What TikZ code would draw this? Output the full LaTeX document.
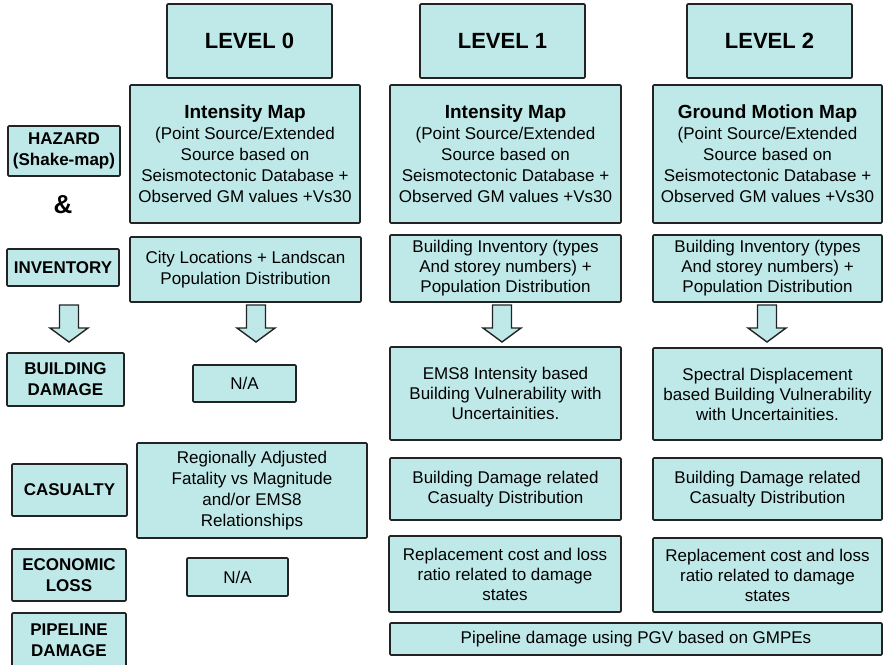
\documentclass[tikz,border=0pt]{standalone}
\usepackage{fontspec}
\setmainfont{Liberation Sans}
\usepackage{tikz}
\definecolor{boxcyan}{RGB}{190,233,232}
\definecolor{boxline}{RGB}{35,35,35}

\begin{document}
\begin{tikzpicture}
        [
          x=1pt, y=-1pt,
          box/.style={draw=boxline, line width=1.6pt, fill=boxcyan, rounded corners=1pt,
            inner sep=0pt, align=center, font=\fontsize{17}{21}\selectfont},
          levelbox/.style={box, minimum width=165pt, minimum height=74pt,
            font=\fontsize{22}{26}\selectfont\bfseries},
          sidebox/.style={box, font=\fontsize{17}{21}\selectfont\bfseries},
          tight/.style={font=\fontsize{17}{20}\selectfont},
          hollow/.style={draw=boxline, line width=1.4pt, fill=boxcyan, line join=miter}
        ]
        \useasboundingbox (0,0) rectangle (883,664);
        % levels
        \node [levelbox] (lvl0) at (249.5,41) {LEVEL 0};
        \node [levelbox] (lvl1) at (502.5,41) {LEVEL 1};
        \node [levelbox] (lvl2) at (769.5,41) {LEVEL 2};
        % hazard maps
        \node [box, minimum width=230pt, minimum height=138pt] (map0) at (245,154)
        {{\bfseries\fontsize{19}{21}\selectfont Intensity Map}\\(Point Source/Extended\\Source based on\\Seismotectonic Database +\\Observed GM values +Vs30};
        \node [box, minimum width=231pt, minimum height=138pt] (map1) at (505.5,154)
        {{\bfseries\fontsize{19}{21}\selectfont Intensity Map}\\(Point Source/Extended\\Source based on\\Seismotectonic Database +\\Observed GM values +Vs30};
        \node [box, minimum width=229pt, minimum height=138pt] (map2) at (767.5,154)
        {{\bfseries\fontsize{19}{21}\selectfont Ground Motion Map}\\(Point Source/Extended\\Source based on\\Seismotectonic Database +\\Observed GM values +Vs30};
        % left column
        \node [sidebox, minimum width=112pt, minimum height=50pt] (haz) at (64,151) {HAZARD\\(Shake-map)};
        \node [font=\fontsize{26}{26}\selectfont\bfseries] (amp) at (63,205) {\&};
        \node [sidebox, minimum width=112pt, minimum height=37pt] (inv) at (63,267.5) {INVENTORY};
        \node [sidebox, minimum width=117pt, minimum height=53pt] (bdam) at (65.5,379.5) {BUILDING\\DAMAGE};
        \node [sidebox, minimum width=115pt, minimum height=52pt] (cas) at (69.5,490) {CASUALTY};
        \node [sidebox, minimum width=114pt, minimum height=52pt] (eco) at (69,575) {ECONOMIC\\LOSS};
        \node [sidebox, minimum width=114pt, minimum height=54pt] (pip) at (69,640) {PIPELINE\\DAMAGE};
        % inventory
        \node [box, minimum width=231pt, minimum height=65pt] (inv0) at (245.5,269.5)
        {City Locations + Landscan\\Population Distribution};
        \node [box, tight, minimum width=231pt, minimum height=67pt] (inv1) at (505.5,268.5)
        {Building Inventory (types\\And storey numbers) +\\Population Distribution};
        \node [box, tight, minimum width=229pt, minimum height=67pt] (inv2) at (767.5,268.5)
        {Building Inventory (types\\And storey numbers) +\\Population Distribution};
        % building damage
        \node [box, minimum width=103pt, minimum height=37pt] (na0) at (244.5,383.5) {N/A};
        \node [box, tight, minimum width=231pt, minimum height=93pt] (vul1) at (505.5,393.5)
        {EMS8 Intensity based\\Building Vulnerability with\\Uncertainities.};
        \node [box, tight, minimum width=229pt, minimum height=92pt] (vul2) at (767.5,394)
        {Spectral Displacement\\based Building Vulnerability\\with Uncertainities.};
        % casualty
        \node [box, minimum width=230pt, minimum height=95pt] (cas0) at (252,490.5)
        {Regionally Adjusted\\Fatality vs Magnitude\\and/or EMS8\\Relationships};
        \node [box, tight, minimum width=231pt, minimum height=62pt] (cas1) at (505.5,489)
        {Building Damage related\\Casualty Distribution};
        \node [box, tight, minimum width=229pt, minimum height=62pt] (cas2) at (767.5,489)
        {Building Damage related\\Casualty Distribution};
        % economic loss
        \node [box, minimum width=101pt, minimum height=38pt] (na1) at (237.5,577) {N/A};
        \node [box, tight, minimum width=232pt, minimum height=76pt] (loss1) at (505,574)
        {Replacement cost and loss\\ratio related to damage\\states};
        \node [box, tight, minimum width=229pt, minimum height=74pt] (loss2) at (767.5,575)
        {Replacement cost and loss\\ratio related to damage\\states};
        % pipeline
        \node [box, minimum width=492pt, minimum height=32pt] (pip1) at (636,639)
        {Pipeline damage using PGV based on GMPEs};
        % block arrows
        \foreach \x in {69,256,502,767} {
            \draw [hollow] (\x-9.5,305) -- (\x+9.5,305) -- (\x+9.5,328) -- (\x+19,328)
            -- (\x,342) -- (\x-19,328) -- (\x-9.5,328) -- cycle;
        }
\end{tikzpicture}
\end{document}
